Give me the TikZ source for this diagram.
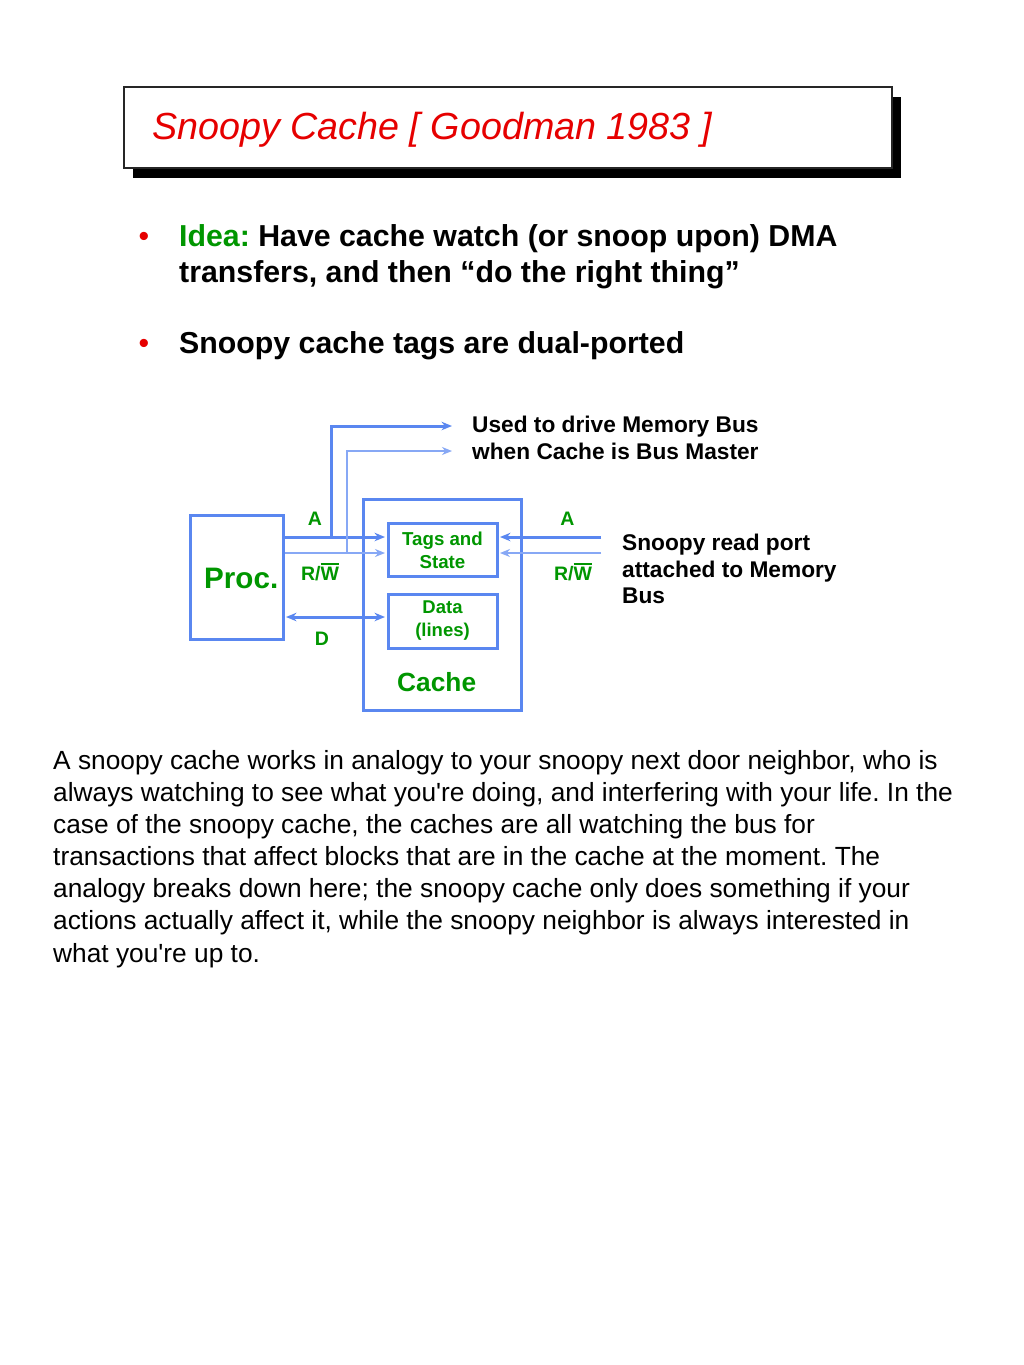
\documentclass[tikz,border=0pt]{standalone}
\usepackage{fontspec}
\setmainfont{Liberation Sans}
\usetikzlibrary{arrows.meta,shadows}
\definecolor{tred}{RGB}{230,0,0}
\definecolor{tgreen}{RGB}{0,150,0}
\definecolor{bblue}{RGB}{90,135,240}
\definecolor{lblue}{RGB}{135,168,245}
\newcommand\fsz[1]{\fontsize{#1}{#1}\selectfont}
\newcommand\ovW{\setbox0\hbox{W}\rlap{\rule[\dimexpr\ht0+0.09em\relax]{\wd0}{0.08em}}\box0}
\frenchspacing
\begin{document}
\begin{tikzpicture}[x=1pt,y=-1pt,
  txt/.style={inner sep=0pt, anchor=base west},
  para/.style={txt, font=\fsz{26.3}},
  blt/.style={txt, font=\fsz{30.3}\bfseries},
  note/.style={txt, font=\fsz{22.7}\bfseries},
  sig/.style={inner sep=0pt, anchor=base, text=tgreen, font=\fsz{19.5}\bfseries},
  bbox/.style={draw=bblue, line width=3pt, inner sep=0pt},
  inbox/.style={bbox, minimum width=109pt, text=tgreen, align=center},
  abus/.style={draw=bblue, line width=3pt, -{Stealth[length=10.5pt,width=8.5pt]}, shorten >=1.5pt},
  rbus/.style={draw=lblue, line width=2.6pt, -{Stealth[length=10pt,width=8pt]}, shorten >=1.5pt}]
\fill[white] (0,0) rectangle (1024,1365);
\useasboundingbox (0,0) rectangle (1024,1365);

% title
\node[draw=black!85, line width=1.8pt, fill=white, minimum width=768pt, minimum height=81pt, inner sep=0pt,
  drop shadow={shadow xshift=8.5pt, shadow yshift=-9.5pt, fill=black, opacity=1}] (titlebox) at (508,127.5) {};
\node[txt, text=tred, font=\fsz{37.7}\itshape] (title) at (152,139) {Snoopy Cache [ Goodman 1983 ]};

% bullets
\node[inner sep=0pt, anchor=base, text=tred, font=\fsz{30.3}] (b1) at (144,246) {•};
\node[blt] (l1) at (179,246) {\textcolor{tgreen}{Idea:} Have cache watch (or snoop upon) DMA};
\node[blt] (l2) at (179,282) {transfers, and then “do the right thing”};
\node[inner sep=0pt, anchor=base, text=tred, font=\fsz{30.3}] (b2) at (144,353) {•};
\node[blt] (l3) at (179,353) {Snoopy cache tags are dual-ported};

% diagram
\node[bbox, minimum width=93pt, minimum height=124pt] (proc) at (236.5,577) {};
\node[txt, text=tgreen, font=\fsz{29.6}\bfseries] (proclbl) at (204,588) {Proc.};
\node[bbox, minimum width=158pt, minimum height=211pt] (cache) at (442,604.5) {};
\node[txt, text=tgreen, font=\fsz{26.3}\bfseries] (cachelbl) at (397,691) {Cache};
\node[inbox, minimum height=53pt, font=\fontsize{18.7}{23}\selectfont\bfseries] (tags) at (442.5,550) {Tags and\\State};
\node[inbox, minimum height=54pt, font=\fontsize{18.5}{23}\selectfont\bfseries] (data) at (442.5,621) {Data\\(lines)};

\coordinate (ay) at (0,537);
\coordinate (ry) at (0,553);
\coordinate (dy) at (0,617);
\coordinate (abr) at (331,537);
\coordinate (rbr) at (347,553);
\coordinate (aout) at (452,426);
\coordinate (rout) at (452,451);
\coordinate (ain) at (601,537);
\coordinate (rin) at (601,553);

\draw[abus] (proc.east |- ay) -- (tags.west |- ay);
\draw[rbus] (proc.east |- ry) -- (tags.west |- ry);
\draw[abus, shorten >=0pt] (abr) |- (aout);
\draw[rbus, shorten >=0pt] (rbr) |- (rout);
\draw[abus] (ain) -- (tags.east |- ay);
\draw[rbus] (rin) -- (tags.east |- ry);
\draw[abus, {Stealth[length=10.5pt,width=8.5pt]}-{Stealth[length=10.5pt,width=8.5pt]}, shorten <=1.5pt] (proc.east |- dy) -- (data.west |- dy);

\node[sig] (la) at (315,525) {A};
\node[sig] (lrw) at (320,580) {R/\ovW};
\node[sig] (ld) at (322,645) {D};
\node[sig] (ra) at (567.5,525) {A};
\node[sig] (rrw) at (573,580) {R/\ovW};

\node[note] (u1) at (472,432) {Used to drive Memory Bus};
\node[note] (u2) at (472,459) {when Cache is Bus Master};
\node[note] (s1) at (622,550) {Snoopy read port};
\node[note] (s2) at (622,577) {attached to Memory};
\node[note] (s3) at (622,603) {Bus};

% paragraph
\node[para] (p1) at (53,769) {A snoopy cache works in analogy to your snoopy next door neighbor, who is};
\node[para] (p2) at (53,801.2) {always watching to see what you\textquotesingle re doing, and interfering with your life. In the};
\node[para] (p3) at (53,833.3) {case of the snoopy cache, the caches are all watching the bus for};
\node[para] (p4) at (53,865.5) {transactions that affect blocks that are in the cache at the moment. The};
\node[para] (p5) at (53,897.7) {analogy breaks down here; the snoopy cache only does something if your};
\node[para] (p6) at (53,929.8) {actions actually affect it, while the snoopy neighbor is always interested in};
\node[para] (p7) at (53,962) {what you\textquotesingle re up to.};
\end{tikzpicture}
\end{document}
